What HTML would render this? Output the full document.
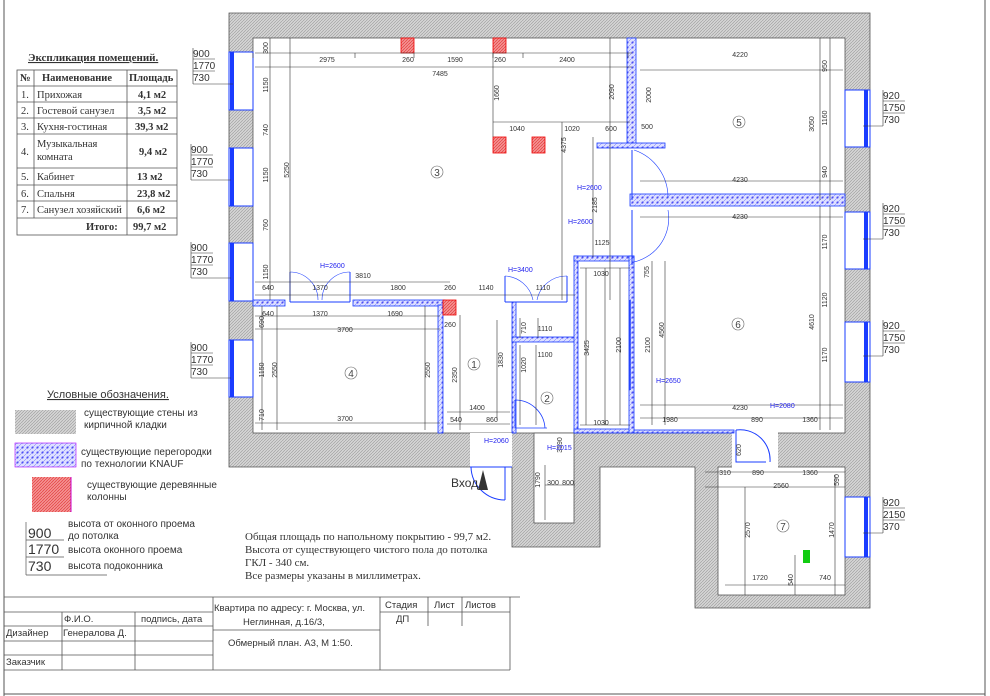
<!DOCTYPE html>
<html><head><meta charset="utf-8"><style>
body{margin:0;background:#fff;}
svg{display:block;font-family:"Liberation Sans","DejaVu Sans",sans-serif;}
.d{font-size:7px;fill:#333;}
.dl{stroke:#333;stroke-width:0.6;fill:none;}
.s{font-family:"Liberation Serif",serif;}
.h{font-size:7px;fill:#2222ee;}
</style></head><body>
<svg width="990" height="696" viewBox="0 0 990 696" xmlns="http://www.w3.org/2000/svg">
<defs>
<pattern id="br" width="3" height="3" patternUnits="userSpaceOnUse"><rect width="3" height="3" fill="#d4d4d4"/><path d="M0 3L3 0" stroke="#999" stroke-width="0.6"/></pattern>
<pattern id="kn" width="5" height="5" patternUnits="userSpaceOnUse"><rect width="5" height="5" fill="#dde0ff"/><circle cx="2.5" cy="2.5" r="1" fill="#3333ee"/><path d="M0 5L5 0" stroke="#6666ff" stroke-width="0.5"/></pattern>
<pattern id="rd" width="3" height="3" patternUnits="userSpaceOnUse"><rect width="3" height="3" fill="#f49090"/><path d="M0 3L3 0" stroke="#e03030" stroke-width="0.6"/></pattern>
</defs>
<line x1="4" y1="0" x2="4" y2="696" stroke="#555"/>
<line x1="985" y1="0" x2="985" y2="696" stroke="#555"/>
<line x1="4" y1="694" x2="985" y2="694" stroke="#555"/>

<path d="M229 13H870V608H695V467H600V547H512V467H229Z" fill="url(#br)" stroke="#555" stroke-width="0.8"/>
<rect x="253" y="38" width="592" height="395" fill="#fff" stroke="#555" stroke-width="0.8"/>
<rect x="470" y="433" width="42" height="34" fill="#fff"/>
<rect x="534" y="433" width="40" height="90" fill="#fff" stroke="#555" stroke-width="0.8"/>
<rect x="718" y="467" width="127" height="128" fill="#fff" stroke="#555" stroke-width="0.8"/>
<rect x="732" y="425" width="46" height="45" fill="#fff"/>

<g fill="#fff" stroke="#1a3cff" stroke-width="1">
<rect x="229" y="52" width="24" height="58"/><rect x="229" y="148" width="24" height="58"/>
<rect x="229" y="243" width="24" height="58"/><rect x="229" y="340" width="24" height="57"/>
<rect x="845" y="90" width="25" height="57"/><rect x="845" y="212" width="25" height="57"/>
<rect x="845" y="322" width="25" height="60"/><rect x="845" y="497" width="25" height="60"/>
</g>
<g fill="#1a3cff">
<rect x="230" y="52" width="4" height="58"/><rect x="230" y="148" width="4" height="58"/>
<rect x="230" y="243" width="4" height="58"/><rect x="230" y="340" width="4" height="57"/>
<rect x="864" y="90" width="4" height="57"/><rect x="864" y="212" width="4" height="57"/>
<rect x="864" y="322" width="4" height="60"/><rect x="864" y="497" width="4" height="60"/>
</g>
<g font-size="10" fill="#333">
<g transform="translate(193,48)"><text y="9">900</text><text y="21">1770</text><text y="33">730</text><path d="M0 11H22M0 23H22M0 36H40M0 0V36" stroke="#333" stroke-width="0.6"/></g>
<g transform="translate(191,144)"><text y="9">900</text><text y="21">1770</text><text y="33">730</text><path d="M0 11H22M0 23H22M0 36H40M0 0V36" stroke="#333" stroke-width="0.6"/></g>
<g transform="translate(191,242)"><text y="9">900</text><text y="21">1770</text><text y="33">730</text><path d="M0 11H22M0 23H22M0 36H40M0 0V36" stroke="#333" stroke-width="0.6"/></g>
<g transform="translate(191,342)"><text y="9">900</text><text y="21">1770</text><text y="33">730</text><path d="M0 11H22M0 23H22M0 36H40M0 0V36" stroke="#333" stroke-width="0.6"/></g>
<g transform="translate(883,90)"><text y="9">920</text><text y="21">1750</text><text y="33">730</text><path d="M0 11H22M0 23H22M0 36H-20M0 0V36" stroke="#333" stroke-width="0.6"/></g>
<g transform="translate(883,203)"><text y="9">920</text><text y="21">1750</text><text y="33">730</text><path d="M0 11H22M0 23H22M0 36H-20M0 0V36" stroke="#333" stroke-width="0.6"/></g>
<g transform="translate(883,320)"><text y="9">920</text><text y="21">1750</text><text y="33">730</text><path d="M0 11H22M0 23H22M0 36H-20M0 0V36" stroke="#333" stroke-width="0.6"/></g>
<g transform="translate(883,497)"><text y="9">920</text><text y="21">2150</text><text y="33">370</text><path d="M0 11H22M0 23H22M0 36H-20M0 0V36" stroke="#333" stroke-width="0.6"/></g>
</g>

<g fill="url(#kn)" stroke="#1a3cff" stroke-width="0.8">
<rect x="627" y="38" width="9" height="107"/>
<rect x="597" y="143" width="68" height="5"/>
<rect x="630" y="194" width="215" height="12"/>
<rect x="253" y="300" width="32" height="6"/>
<rect x="353" y="300" width="92" height="6"/>
<rect x="438" y="305" width="5" height="128"/>
<rect x="512" y="302" width="4" height="131"/>
<rect x="512" y="337" width="65" height="5"/>
<rect x="574" y="256" width="4" height="177"/>
<rect x="574" y="256" width="60" height="5"/>
<rect x="574" y="429" width="60" height="4"/>
<rect x="629" y="256" width="5" height="177"/>
<rect x="634" y="430" width="100" height="3"/>
</g>
<g fill="url(#rd)" stroke="#e00" stroke-width="0.8">
<rect x="401" y="38" width="13" height="15"/><rect x="493" y="38" width="13" height="15"/>
<rect x="493" y="137" width="13" height="16"/><rect x="532" y="137" width="13" height="16"/>
<rect x="443" y="300" width="13" height="15"/>
</g>
<rect x="803" y="550" width="7" height="13" fill="#1c1"/>

<g stroke="#1a3cff" fill="none" stroke-width="1">
<path d="M290 272V302M350 272V302M290 302H350"/>
<path d="M290 272A28 28 0 0 1 318 300M350 272A28 28 0 0 0 322 300" stroke-width="0.6"/>
<path d="M505 276V302M567 276V302M505 302H567"/>
<path d="M505 276A30 30 0 0 1 533 300M567 276A30 30 0 0 0 537 300" stroke-width="0.6"/>
<path d="M632 150V200M632 210V265"/>
<path d="M634 150A50 50 0 0 1 668 198M634 262A45 45 0 0 0 668 210" stroke-width="0.6"/>
<path d="M515 400V428H547M515 400A30 30 0 0 1 545 428" stroke-width="0.8"/>
<path d="M736 430V462H766M736 430A30 30 0 0 1 770 462"/>
<path d="M470 467H512M505 467V500M505 500A34 34 0 0 1 471 467" />
<path d="M630 300V390" stroke-width="1.5"/>
</g>
<path d="M478 490L483 470L488 490Z" fill="#333"/>

<g class="dl">
<path d="M255 53H632M255 67H632M270 38V300M290 38V300M253 53V58M355 53V58M414 53V58M493 53V58M523 53V58M628 53V58"/>
<path d="M493 53V137M493 122H630M610 38V300M562 122V300M593 137V257"/>
<path d="M640 70H843M640 181H843M640 217H843M640 405H843M640 418H843M830 38V200M820 38V200M830 206V430M820 206V430M652 261V425M665 261V425"/>
<path d="M255 282H450M255 295H575M255 316H440M255 329H440M255 423H440M262 306V430M277 306V430M425 306V430"/>
<path d="M447 412H510M447 424H510M460 315V430M497 320V420M520 318V338M520 345V425M536 345V425M538 318V338M580 268H630M580 425H630M586 268V425M605 268V425M620 268V425"/>
<path d="M705 472H845M705 487H845M745 487V595M725 585H845M795 555V595M835 475V595"/>
<path d="M545 485H575M545 465V520"/>
</g>
<g class="d" text-anchor="middle">
<text x="327" y="62">2975</text><text x="408" y="62">260</text><text x="455" y="62">1590</text><text x="500" y="62">260</text><text x="567" y="62">2400</text>
<text x="440" y="76">7485</text><text x="517" y="131">1040</text><text x="572" y="131">1020</text><text x="611" y="131">600</text>
<text x="647" y="129">500</text>
<text x="740" y="57">4220</text><text x="740" y="182">4230</text><text x="740" y="219">4230</text><text x="740" y="410">4230</text>
<text x="602" y="245">1125</text>
<text x="363" y="278">3810</text><text x="268" y="290">640</text><text x="320" y="290">1370</text><text x="398" y="290">1800</text><text x="450" y="290">260</text><text x="486" y="290">1140</text><text x="543" y="290">1110</text>
<text x="268" y="316">640</text><text x="320" y="316">1370</text><text x="395" y="316">1690</text><text x="345" y="332">3700</text><text x="345" y="421">3700</text><text x="450" y="327">260</text>
<text x="477" y="410">1400</text><text x="456" y="422">540</text><text x="492" y="422">860</text>
<text x="545" y="331">1110</text><text x="545" y="357">1100</text><text x="601" y="276">1030</text><text x="601" y="425">1030</text>
<text x="670" y="422">1980</text><text x="757" y="422">890</text><text x="810" y="422">1360</text>
<text x="725" y="475">310</text><text x="758" y="475">890</text><text x="810" y="475">1360</text><text x="781" y="488">2560</text>
<text x="760" y="580">1720</text><text x="825" y="580">740</text><text x="553" y="485">300</text><text x="568" y="485">800</text>
</g>
<g class="d" text-anchor="middle">
<text transform="translate(268,85) rotate(-90)">1150</text><text transform="translate(268,130) rotate(-90)">740</text><text transform="translate(268,175) rotate(-90)">1150</text><text transform="translate(268,225) rotate(-90)">760</text><text transform="translate(268,272) rotate(-90)">1150</text><text transform="translate(268,48) rotate(-90)">300</text>
<text transform="translate(289,170) rotate(-90)">5250</text><text transform="translate(499,93) rotate(-90)">1660</text><text transform="translate(614,92) rotate(-90)">2090</text><text transform="translate(566,145) rotate(-90)">4375</text><text transform="translate(651,95) rotate(-90)">2000</text><text transform="translate(597,205) rotate(-90)">2185</text>
<text transform="translate(827,66) rotate(-90)">950</text><text transform="translate(814,124) rotate(-90)">3050</text><text transform="translate(827,118) rotate(-90)">1160</text><text transform="translate(827,172) rotate(-90)">940</text>
<text transform="translate(827,242) rotate(-90)">1170</text><text transform="translate(827,300) rotate(-90)">1120</text><text transform="translate(827,355) rotate(-90)">1170</text><text transform="translate(814,322) rotate(-90)">4610</text>
<text transform="translate(664,330) rotate(-90)">4560</text><text transform="translate(650,345) rotate(-90)">2100</text><text transform="translate(621,345) rotate(-90)">2100</text><text transform="translate(589,348) rotate(-90)">3425</text><text transform="translate(649,272) rotate(-90)">755</text>
<text transform="translate(264,370) rotate(-90)">1150</text><text transform="translate(277,370) rotate(-90)">2550</text><text transform="translate(430,370) rotate(-90)">2550</text><text transform="translate(264,415) rotate(-90)">710</text><text transform="translate(264,322) rotate(-90)">690</text>
<text transform="translate(457,375) rotate(-90)">2350</text><text transform="translate(503,360) rotate(-90)">1830</text><text transform="translate(526,328) rotate(-90)">710</text><text transform="translate(526,365) rotate(-90)">1020</text>
<text transform="translate(750,530) rotate(-90)">2570</text><text transform="translate(834,530) rotate(-90)">1470</text><text transform="translate(839,480) rotate(-90)">590</text><text transform="translate(793,580) rotate(-90)">540</text>
<text transform="translate(540,480) rotate(-90)">1790</text><text transform="translate(562,445) rotate(-90)">3590</text><text transform="translate(741,450) rotate(-90)">620</text>
</g>
<g class="h">
<text x="320" y="268">H=2600</text><text x="508" y="272">H=3400</text><text x="577" y="190">H=2600</text><text x="568" y="224">H=2600</text>
<text x="656" y="383">H=2650</text><text x="770" y="408">H=2080</text><text x="484" y="443">H=2060</text><text x="547" y="450">H=2015</text>
</g>
<g font-size="10" fill="#444" text-anchor="middle">
<circle cx="437" cy="172" r="6" fill="none" stroke="#666" stroke-width="0.6"/><text x="437" y="176">3</text>
<circle cx="739" cy="122" r="6" fill="none" stroke="#666" stroke-width="0.6"/><text x="739" y="126">5</text>
<circle cx="738" cy="324" r="6" fill="none" stroke="#666" stroke-width="0.6"/><text x="738" y="328">6</text>
<circle cx="351" cy="373" r="6" fill="none" stroke="#666" stroke-width="0.6"/><text x="351" y="377">4</text>
<circle cx="474" cy="364" r="6" fill="none" stroke="#666" stroke-width="0.6"/><text x="474" y="368">1</text>
<circle cx="547" cy="398" r="6" fill="none" stroke="#666" stroke-width="0.6"/><text x="547" y="402">2</text>
<circle cx="783" cy="526" r="6" fill="none" stroke="#666" stroke-width="0.6"/><text x="783" y="530">7</text>
</g>
<text x="451" y="487" font-size="12" fill="#333">Вход</text>

<text x="28" y="61" class="s" font-size="11" font-weight="bold" fill="#333" text-decoration="underline">Экспликация помещений.</text>
<g stroke="#555" stroke-width="0.8" fill="none">
<rect x="17" y="70" width="160" height="165"/>
<path d="M34 70V218M127 70V235M17 86H177M17 102H177M17 118H177M17 134H177M17 168H177M17 185H177M17 201H177M17 218H177"/>
</g>
<g class="s" font-size="10.5" fill="#333">
<text x="20" y="81" font-weight="bold">№</text><text x="42" y="81" font-weight="bold">Наименование</text><text x="129" y="81" font-weight="bold">Площадь</text>
<text x="21" y="98">1.</text><text x="37" y="98">Прихожая</text><text x="138" y="98" font-weight="bold">4,1 м2</text>
<text x="21" y="114">2.</text><text x="37" y="114">Гостевой санузел</text><text x="138" y="114" font-weight="bold">3,5 м2</text>
<text x="21" y="130">3.</text><text x="37" y="130">Кухня-гостиная</text><text x="135" y="130" font-weight="bold">39,3 м2</text>
<text x="21" y="155">4.</text><text x="37" y="147">Музыкальная</text><text x="37" y="160">комната</text><text x="139" y="155" font-weight="bold">9,4 м2</text>
<text x="21" y="180">5.</text><text x="37" y="180">Кабинет</text><text x="137" y="180" font-weight="bold">13 м2</text>
<text x="21" y="197">6.</text><text x="37" y="197">Спальня</text><text x="137" y="197" font-weight="bold">23,8 м2</text>
<text x="21" y="213">7.</text><text x="37" y="213">Санузел хозяйский</text><text x="137" y="213" font-weight="bold">6,6 м2</text>
<text x="86" y="230" font-weight="bold">Итого:</text><text x="133" y="230" font-weight="bold">99,7 м2</text>
</g>

<text x="47" y="398" font-size="11" fill="#333" text-decoration="underline">Условные обозначения.</text>
<rect x="15" y="410" width="61" height="24" fill="url(#br)"/>
<text x="84" y="416" font-size="10" fill="#333">существующие стены из</text><text x="84" y="428" font-size="10" fill="#333">кирпичной кладки</text>
<rect x="15" y="443" width="61" height="24" fill="url(#kn)" stroke="#a0f" stroke-width="0.6"/>
<text x="81" y="455" font-size="10" fill="#333">существующие перегородки</text><text x="81" y="467" font-size="10" fill="#333">по технологии KNAUF</text>
<rect x="32" y="477" width="39" height="35" fill="url(#rd)"/><line x1="71" y1="477" x2="71" y2="512" stroke="#c0c" />
<text x="87" y="488" font-size="10" fill="#333">существующие деревянные</text><text x="87" y="500" font-size="10" fill="#333">колонны</text>
<g fill="#333"><text x="28" y="538" font-size="14">900</text><text x="28" y="554" font-size="14">1770</text><text x="28" y="571" font-size="14">730</text>
<text x="68" y="527" font-size="10">высота от оконного проема</text><text x="68" y="539" font-size="10">до потолка</text><text x="68" y="553" font-size="10">высота оконного проема</text><text x="68" y="569" font-size="10">высота подоконника</text></g>
<path d="M26 522V575M26 540H64M26 557H64M26 575H107" stroke="#555" stroke-width="0.7" fill="none"/>
<g class="s" font-size="11" fill="#333">
<text x="245" y="540">Общая площадь по напольному покрытию - 99,7 м2.</text>
<text x="245" y="553">Высота от существующего чистого пола до потолка</text>
<text x="245" y="566">ГКЛ - 340 см.</text><text x="245" y="579">Все размеры указаны в миллиметрах.</text>
</g>

<g stroke="#555" stroke-width="0.8" fill="none">
<path d="M4 597H520M4 612H213M4 626H213M380 612H510M4 641H213M4 655H213M4 670H510M213 630H380"/>
<path d="M62 612V670M135 612V670M213 597V670M380 597V670M428 597V626M462 597V626M510 597V670"/>
</g>
<g font-size="9.5" fill="#333">
<text x="64" y="622">Ф.И.О.</text><text x="141" y="622">подпись, дата</text>
<text x="6" y="636">Дизайнер</text><text x="63" y="636">Генералова Д.</text><text x="6" y="665">Заказчик</text>
<text x="214" y="611">Квартира по адресу: г. Москва, ул.</text><text x="243" y="625">Неглинная, д.16/3,</text>
<text x="228" y="646">Обмерный план. А3, М 1:50.</text>
<text x="385" y="608">Стадия</text><text x="434" y="608">Лист</text><text x="465" y="608">Листов</text><text x="396" y="622">ДП</text>
</g>
</svg>
</body></html>
